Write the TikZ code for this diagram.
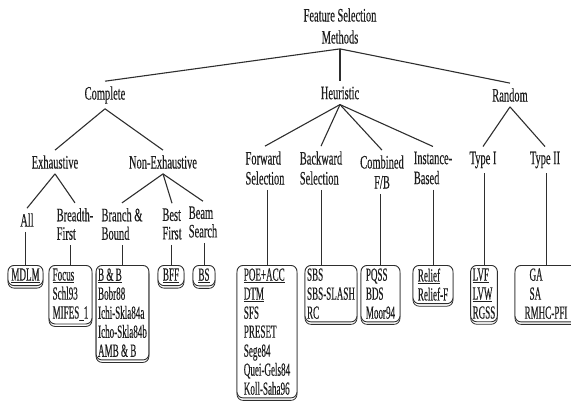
\documentclass[tikz,border=0pt]{standalone}
\usepackage{fontspec}
\setmainfont[FakeStretch=0.55,FakeBold=0.3]{Liberation Serif}
\newfontfamily\listfont[FakeStretch=0.49,FakeBold=0.3]{Liberation Serif}
\usetikzlibrary{shadows}
\definecolor{Ink}{HTML}{1E1E1E}
\definecolor{Edge}{HTML}{2E2E2E}

\begin{document}
\begin{tikzpicture}[x=1pt,y=-1pt,
    lbl/.style={align=left,inner xsep=0pt,inner ysep=5pt,text=Ink,
      font=\fontsize{19}{20}\selectfont},
    low/.style={lbl,font=\fontsize{19}{18.5}\selectfont},
    method/.style={draw=Edge,line width=0.9pt,rounded corners=6pt,fill=white,
      align=left,inner xsep=2pt,inner ysep=3pt,anchor=north,text=Ink,
      font=\listfont\fontsize{18.5}{19}\selectfont,
      general shadow={shadow xshift=0pt,shadow yshift=-2.5pt,draw=Edge,
        line width=0.8pt,fill=white}},
    tree/.style={draw=Edge,line width=1.1pt},
    drop/.style={draw=Edge,line width=0.9pt}
  ]
    \useasboundingbox (0,0) rectangle (571,405);
    % top levels
    \node[lbl,align=center,font=\fontsize{19}{22}\selectfont] (root) at (340,26) {Feature Selection\\Methods};
    \node[lbl] (complete) at (105,95) {Complete};
    \node[lbl] (heuristic) at (340,93) {Heuristic};
    \node[lbl] (random) at (510,95) {Random};
    \node[lbl] (exh) at (55,162) {Exhaustive};
    \node[lbl] (nonexh) at (163,162) {Non-Exhaustive};
    \node[lbl] (fwd) at (265,168) {Forward\\Selection};
    \node[lbl] (bwd) at (321,168) {Backward\\Selection};
    \node[lbl,align=center] (comb) at (382,172) {Combined\\F/B};
    \node[lbl] (inst) at (433,168) {Instance-\\Based};
    \node[lbl] (typeI) at (483,160) {Type I};
    \node[lbl] (typeII) at (545,160) {Type II};
    \node[low] (all) at (27,220) {All};
    \node[low] (breadth) at (75,224) {Breadth-\\First};
    \node[low] (branch) at (122,224) {Branch \&\\Bound};
    \node[low] (best) at (172,224) {Best\\First};
    \node[low] (beam) at (203,222) {Beam\\Search};
    % method lists
    \node[method,minimum width=35pt] (mdlm) at (25.5,265) {\underline{MDLM}};
    \node[method,minimum width=43pt] (focus) at (70.5,265) {\underline{Focus}\\Schl93\\MIFES\_1};
    \node[method,minimum width=51pt] (bnb) at (122.5,265) {\underline{B \& B}\\Bobr88\\Ichi-Skla84a\\Icho-Skla84b\\AMB \& B};
    \node[method,minimum width=26pt] (bff) at (171,265) {\underline{BFF}};
    \node[method,minimum width=22pt] (bs) at (204,265) {\underline{BS}};
    \node[method,minimum width=60pt] (poe) at (267,265) {\underline{POE+ACC}\\\underline{DTM}\\SFS\\PRESET\\Sege84\\Quei-Gels84\\Koll-Saha96};
    \node[method,minimum width=52pt] (sbs) at (331,265) {SBS\\SBS-SLASH\\RC};
    \node[method,minimum width=39pt] (pqss) at (380.5,265) {PQSS\\BDS\\Moor94};
    \node[method,minimum width=40pt] (relief) at (433,265) {\underline{Relief}\\Relief-F};
    \node[method,minimum width=26pt] (lvf) at (484,265) {\underline{LVF}\\\underline{LVW}\\RGSS};
    \node[method,minimum width=62pt] (ga) at (546,265) {\hspace*{5pt}GA\\\hspace*{5pt}SA\\RMHC-PFI};
    % connectors
    \foreach \a/\b in {root/complete,root/heuristic,root/random,complete/exh,complete/nonexh,
      heuristic/fwd,heuristic/bwd,heuristic/comb,heuristic/inst,random/typeI,random/typeII,
      exh/all,exh/breadth,nonexh/branch,nonexh/best,nonexh/beam}
      \draw[tree] (\a.south) -- (\b.north);
    \foreach \a/\b in {all/mdlm,breadth/focus,branch/bnb,best/bff,beam/bs,fwd/poe,
      comb/pqss,inst/relief,typeI/lvf,typeII/ga}
      \draw[drop] (\b.north |- \a.south) -- (\b.north);
    \draw[drop] (bwd.south) -- (bwd.south |- sbs.north);
\end{tikzpicture}
\end{document}
